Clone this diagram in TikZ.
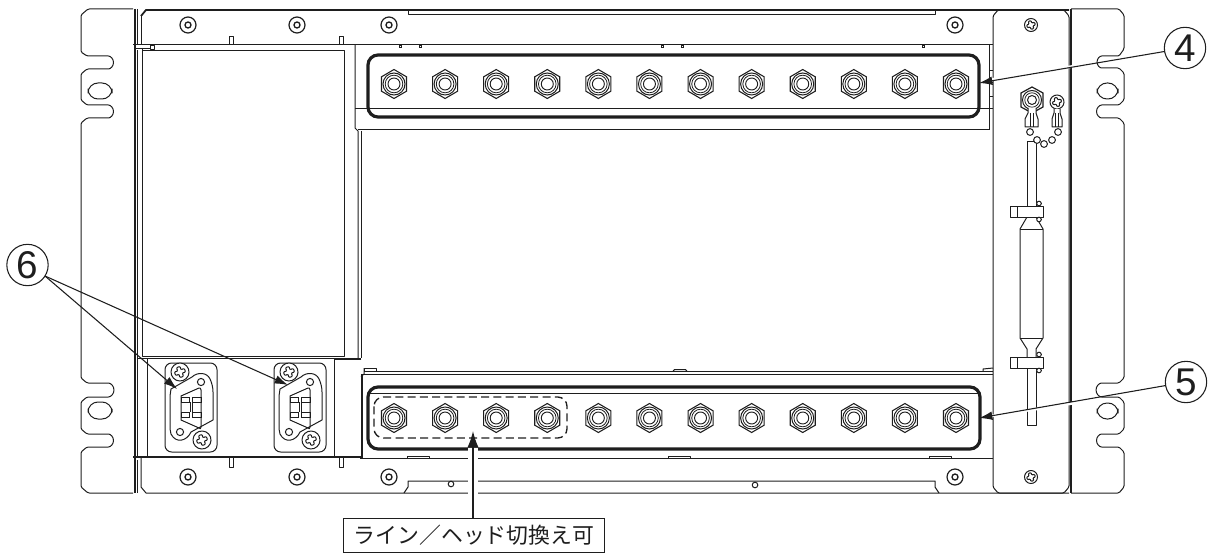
\documentclass[tikz,border=0pt]{standalone}
\usepackage{fontspec}
\setmainfont{Liberation Sans}
\newfontfamily\cjk{Noto Sans CJK JP}
\usetikzlibrary{arrows.meta,shapes.geometric}
\definecolor{ink}{HTML}{1E1E1E}
\tikzset{
  line/.style={draw=ink,line width=0.75pt,line join=round},
  thinl/.style={draw=ink,line width=0.55pt},
  heavy/.style={draw=ink,line width=1.5pt},
  frame/.style={draw=ink,line width=2.4pt,rounded corners=7.5pt},
  callout/.style={circle,draw=ink,line width=0.8pt,minimum size=31pt,inner sep=0pt,font=\fontsize{29}{29}\selectfont,text=ink},
  leader/.style={draw=ink,line width=0.8pt,-{Latex[length=10pt,width=6.5pt]},shorten >=0pt},
  labelbox/.style={draw=ink,line width=0.8pt,fill=white,minimum width=196pt,minimum height=26pt,inner sep=0pt,font=\cjk\fontsize{16.4}{16.4}\selectfont,text=ink}
}
\newcommand{\hexnut}[2]{%
  \begin{scope}[shift={(#1,#2)}]
    \draw[draw=ink,line width=0.8pt,fill=white] (0,-14.5)--(12.5,-7.2)--(12.5,7.2)--(0,14.5)--(-12.5,7.2)--(-12.5,-7.2)--cycle;
    \draw[draw=ink,line width=0.75pt] (0,0) circle[radius=11];
    \draw[draw=ink,line width=0.6pt] (0,0) circle[radius=8.8];
    \draw[draw=ink,line width=0.7pt] (0,0) circle[radius=6];
  \end{scope}}
\newcommand{\washer}[2]{%
  \draw[draw=ink,line width=0.9pt] (#1,#2) circle[radius=8];
  \draw[draw=ink,line width=1pt] (#1,#2) circle[radius=3];}
\newcommand{\crossmark}[4]{% x y radius half-width
  \begin{scope}[shift={(#1,#2)},rotate=20]
    \draw[draw=ink,line width=0.75pt,fill=white] (0,0) circle[radius=#3];
    \draw[draw=ink,line width=0.75pt,line join=round,rounded corners=0.8pt]
      (-#4,-#4*2.5)--(#4,-#4*2.5)--(#4*0.75,-#4*0.75)--(#4*2.5,-#4)--(#4*2.5,#4)--(#4*0.75,#4*0.75)--(#4,#4*2.5)--(-#4,#4*2.5)--(-#4*0.75,#4*0.75)--(-#4*2.5,#4)--(-#4*2.5,-#4)--(-#4*0.75,-#4*0.75)--cycle;
  \end{scope}}
\newcommand{\dsub}[1]{%
  \begin{scope}[xshift=#1*0.75pt]
    \draw[line,rounded corners=5pt] (165,363) rectangle (217,452);
    \draw[line] (171,389)--(192,377) .. controls (197,372) and (207,372) .. (210,379)
      .. controls (212,383) and (213,388) .. (213,392)--(213,420)--(191,432)
      .. controls (187,441) and (176,444) .. (171,434) .. controls (170,431) and (170,428) .. (170,425)--(170,396)--cycle;
    \draw[line] (181,396)--(199,388) .. controls (200,388) and (201,388) .. (201,390)--(201,427) .. controls (201,429) and (200,429) .. (199,428)--(181,420)--cycle;
    \draw[thinl] (181,397) rectangle (189.5,402) (192.5,397) rectangle (201,402);
    \draw[thinl] (181,412) rectangle (189.5,417) (192.5,412) rectangle (201,417);
    \draw[thinl] (190,402)--(190,412) (192,402)--(192,412);
    \draw[line] (201,382) circle[radius=3.6] (180,432) circle[radius=3.6];
    \crossmark{180}{372}{9}{2.1}
    \crossmark{202}{440}{9}{2.1}
  \end{scope}}
\begin{document}
\begin{tikzpicture}[x=0.75pt,y=-0.75pt]
\useasboundingbox (0,0) rectangle (1219,556);
% left flange
\draw[line,rounded corners=1pt] (133,9)--(88,9)--(81,15)--(81,52)--(87,56)--(107,56)
  arc[start angle=-90,end angle=90,radius=6.5]
  --(87,69)--(81,74)--(81,100)--(87,105)--(107,105)
  arc[start angle=-90,end angle=90,radius=6.5]
  --(87,118)--(81,123)--(81,378)--(87,383)--(107,383)
  arc[start angle=-90,end angle=90,radius=7]
  --(87,397)--(81,402)--(81,429)--(87,434)--(107,434)
  arc[start angle=-90,end angle=90,radius=6.5]
  --(87,447)--(81,452)--(81,487)--(88,493)--(133,493);
\draw[line,rounded corners=7.5pt] (88,83) rectangle (112,99);
\draw[line,rounded corners=7.5pt] (88,402) rectangle (112,419);
% right flange
\draw[line,rounded corners=1pt] (1071,9)--(1119,9)--(1124,15)--(1124,49)--(1119,56)--(1103,56)
  arc[start angle=270,end angle=90,radius=6]
  --(1119,68)--(1124,73)--(1124,100)--(1119,105)--(1103,105)
  arc[start angle=270,end angle=90,radius=6.5]
  --(1119,118)--(1124,123)--(1124,378)--(1119,383)--(1103,383)
  arc[start angle=270,end angle=90,radius=7]
  --(1119,397)--(1124,402)--(1124,429)--(1119,434)--(1103,434)
  arc[start angle=270,end angle=90,radius=6.5]
  --(1119,447)--(1124,452)--(1124,487)--(1119,493)--(1071,493);
\draw[line,rounded corners=7.5pt] (1097,83) rectangle (1118,99);
\draw[line,rounded corners=7.5pt] (1097,403) rectangle (1118,419);
\draw[heavy] (1071,9)--(1071,493);
% left posts
\draw[heavy] (134.5,9)--(134.5,493);
\draw[line] (137.5,9)--(137.5,45) (137.5,50)--(137.5,457);
\draw[line] (137.5,460)--(137.5,493);
\draw[line] (134,45)--(141,45) (134,49)--(150,49);
\draw[line] (150,46) rectangle (154,50);
% top bar
\draw[draw=ink,line width=1.3pt] (141,16)--(146,10)--(1069,10);
\draw[line] (141,16)--(141,45);
\draw[line] (408,10)--(408,15)--(935,15)--(935,10);
\draw[line] (133,45)--(993,45);
\draw[line] (229,37) rectangle (233,45) (339,37) rectangle (343,45);
\foreach \tx in {400,420,662,682,923}{\draw[thinl] (\tx-1,45) rectangle (\tx+1,47.5);}
\foreach \sx in {188,297,389,955}{\washer{\sx}{25}\washer{\sx}{477}}
% left upper panel
\draw[line] (142,51)--(344,51)--(344,356)--(142,356)--cycle;
\draw[line] (142,48)--(142,51);
\draw[line] (137,358)--(334,358);
\draw[line] (355,45)--(355,128)--(358,131)--(358,358);
\draw[line] (361,131)--(361,358);
\draw[line] (355,109)--(993,109);
\draw[line] (358,130)--(989,130);
\draw[line] (989,45)--(989,130);
\draw[thinl] (989,70)--(993,70) (989,82)--(993,82) (989,96)--(993,96);
% right panel
\draw[line,rounded corners=1pt] (993,16)--(998,10)--(1064,10)--(1069,16)--(1069,487)--(1064,493)--(998,493)--(993,487)--cycle;
\crossmark{1031}{25}{6.5}{1.7}
\crossmark{1031}{477}{6.5}{1.7}
% lower bar
\draw[line] (364,371)--(993,371) (364,374)--(993,374);
\draw[line] (360,458)--(993,458);
\draw[draw=ink,line width=1.1pt] (133,457)--(362,457);
\draw[line] (364,368)--(364,374)--(361,377);
\draw[line] (364,368) rectangle (376,371);
\draw[line] (673,371)..controls (674,369) and (675,369.5)..(677,369.5)--(683,369.5)..controls (685,369.5) and (686,369) ..(687,371);
\draw[line] (983,371)--(983,369)--(993,368);
\foreach \tx in {407,668,929}{\draw[line] (\tx,458)--(\tx,456)--(\tx+22,456)--(\tx+22,458);}
\draw[line] (361,377)--(361,458);
\draw[heavy] (362,374)--(362,458);
\draw[line] (141,457)--(141,487)--(146,493)--(404,493)--(1069,493);
\draw[line] (404,493)--(408,487)--(408,481)--(935,481)--(935,487)--(939,493);
\draw[line] (451,484) circle[radius=2.8] (755,485) circle[radius=2.8];
\draw[line] (229,457) rectangle (233,467) (339,457) rectangle (343,467);
% connector panel
\draw[line] (147,358)--(147,457);
\draw[line] (334,358)--(334,457);
\draw[heavy] (334,359)--(361,359);
\dsub{0}
\dsub{109}
% frames and nuts
\draw[line] (368,393)--(979,393);
\foreach \i in {0,...,11}{
  \pgfmathsetmacro{\nx}{394+51.09*\i}
  \hexnut{\nx}{84}
  \hexnut{\nx}{418}
}
\draw[frame] (368,55) rectangle (979,117);
\draw[frame] (368,387) rectangle (980,449);
\draw[draw=ink,line width=1pt,dash pattern=on 6pt off 3.2pt,rounded corners=7pt] (374,397) rectangle (567,438);
% terminal block: lug and chain
\draw[draw=ink,line width=0.9pt,fill=white] (1032,87)--(1043,93)--(1043,107)--(1032,113)--(1021,107)--(1021,93)--cycle;
\draw[line] (1032,100) circle[radius=9.5] (1032,100) circle[radius=4.5];
\draw[thinl] (1032,100) circle[radius=7.2];
\crossmark{1057}{102}{7}{1.8}
\draw[line,fill=white] (1028,108)--(1028,113)--(1025,119)--(1025,127)--(1038,127)--(1038,119)--(1036,113)--(1036,108);
\draw[thinl] (1030.5,113)--(1030.5,127) (1033.5,113)--(1033.5,127);
\draw[line,fill=white] (1054,109)--(1054,113)--(1052,119)--(1052,127)--(1062,127)--(1062,119)--(1060,113)--(1060,109);
\draw[thinl] (1055.5,113)--(1055.5,127) (1058.5,113)--(1058.5,127);
\draw[line] (1027,142)--(1027,206) (1036,142)--(1036,206);
\draw[line] (1027,142)--(1036,142);
\foreach \bx/\by in {1030/132,1037/140,1044/144,1052/140,1058/132}{\draw[line,fill=white] (\bx,\by) circle[radius=3.4];}
\draw[line] (1027,217)--(1020,229)--(1020,338)--(1027,349)--(1027,357) (1036,217)--(1043,229)--(1043,338)--(1036,349)--(1036,357);
\draw[line] (1020,229)--(1043,229) (1020,338)--(1043,338);
\draw[line] (1027,368)--(1027,425)--(1036,425)--(1036,368);
\foreach \cy in {206,357}{
  \draw[line,fill=white] (1010,\cy) rectangle (1043,\cy+11);
  \draw[line] (1017,\cy)--(1017,\cy+11);
  \draw[line,fill=white] (1039,\cy-2.5) circle[radius=2.3] (1039,\cy+13.5) circle[radius=2.3];
}
% callouts
\node[callout] (n4) at (1185,48) {4};
\node[callout] (n5) at (1186,382) {5};
\node[callout] (n6) at (27.5,265) {6};
\coordinate (t4) at (979,83);
\coordinate (t5) at (979,418);
\coordinate (t6a) at (177,389);
\coordinate (t6b) at (288,385);
\coordinate (s6) at (45,276);
\draw[draw=white,line width=2pt] (985,80.5)--(1075,66);
\draw[draw=white,line width=2pt] (985,417)--(1075,403);
\draw[leader] (n4) -- (t4);
\draw[leader] (n5) -- (t5);
\draw[leader] (s6) -- (t6a);
\draw[leader] (s6) -- (t6b);
% label and arrow
\node[labelbox] (lab) at (474,535.5) {ライン／ヘッド切換え可};
\coordinate (tv) at (473,431);
\draw[draw=white,line width=8pt] (473,518)--(473,448);
\draw[draw=ink,line width=1pt,-{Latex[length=12.5pt,width=8.5pt]}] (lab.north -| tv) -- (tv);
\end{tikzpicture}
\end{document}
